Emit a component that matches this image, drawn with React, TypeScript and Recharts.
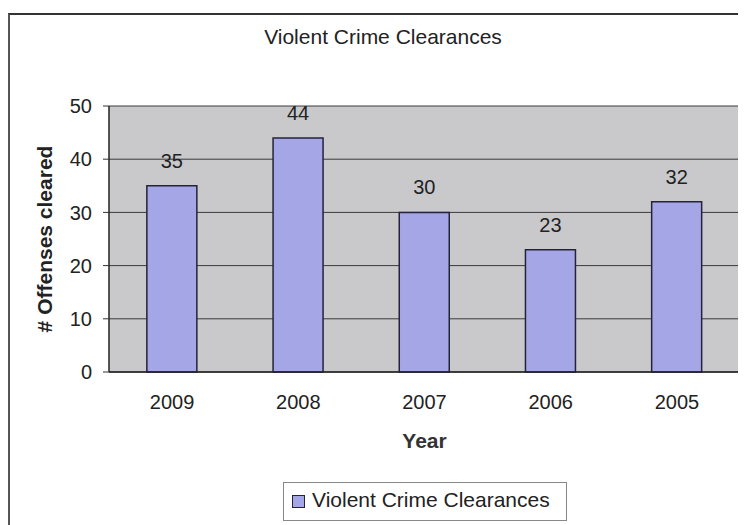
import { BarChart, Bar, XAxis, YAxis, CartesianGrid, Legend, LabelList, Label } from 'recharts'

const years = ['2009', '2008', '2007', '2006', '2005']
const cleared = [35, 44, 30, 23, 32]
const yTicks = [0, 10, 20, 30, 40, 50]
const seriesName = 'Violent Crime Clearances'

const data = years.map((y, i) => ({ year: y, value: cleared[i] }))

const font = '"Liberation Sans", Arial, sans-serif'
const ink = '#222'

function LegendBox() {
  return (
    <div
      style={{
        boxSizing: 'border-box',
        height: 39,
        border: '1px solid #888',
        display: 'flex',
        alignItems: 'center',
        paddingLeft: 8,
        paddingBottom: 4,
        fontFamily: font,
        fontSize: 21,
        color: ink,
        background: '#fff',
      }}
    >
      <span
        style={{
          display: 'inline-block',
          width: 11,
          height: 11,
          background: '#a5a6e6',
          border: '1px solid #23233a',
          marginRight: 7,
          marginTop: 4,
        }}
      />
      {seriesName}
    </div>
  )
}

export default function App() {
  return (
    <div style={{ position: 'relative', width: 738, height: 517, fontFamily: font }}>
      <style>{'html,body{overflow:hidden}'}</style>
      <div
        style={{
          position: 'absolute',
          left: 75,
          width: 600,
          top: 17,
          lineHeight: '24px',
          textAlign: 'center',
          fontSize: 21,
          color: ink,
        }}
      >
        Violent Crime Clearances
      </div>
      <BarChart
        width={738}
        height={517}
        data={data}
        margin={{ top: 98, right: 6, left: 30, bottom: 4 }}
        barCategoryGap="30%"
      >
        <CartesianGrid yAxisId="left" vertical={false} stroke="#3a3a3a" fill="#c9c9cc" fillOpacity={1} />
        <XAxis
          dataKey="year"
          height={110}
          tickLine={false}
          tickSize={0}
          tickMargin={23}
          axisLine={{ stroke: '#222', strokeWidth: 1.5 }}
          tick={{ fill: ink, fontSize: 20, fontFamily: font }}
        >
          <Label
            value="Year"
            position="insideBottom"
            offset={34}
            style={{ fontSize: 21, fontWeight: 'bold', fill: '#333', fontFamily: font }}
          />
        </XAxis>
        <YAxis
          yAxisId="left"
          width={71}
          domain={[0, 50]}
          ticks={yTicks}
          tickSize={6}
          tickMargin={11}
          tickLine={{ stroke: '#333' }}
          axisLine={{ stroke: '#222', strokeWidth: 1.5 }}
          tick={{ fill: ink, fontSize: 20, fontFamily: font }}
        >
          <Label
            value="# Offenses cleared"
            angle={-90}
            position="insideLeft"
            offset={7}
            style={{ textAnchor: 'middle', fontSize: 21, fontWeight: 'bold', fill: ink, fontFamily: font }}
          />
        </YAxis>
        <YAxis
          yAxisId="right"
          orientation="right"
          width={0}
          domain={[0, 50]}
          tick={false}
          tickLine={false}
          axisLine={{ stroke: '#333', strokeWidth: 1.5 }}
        />
        <Legend
          verticalAlign="bottom"
          wrapperStyle={{ left: 275, width: 284, bottom: 4 }}
          content={() => <LegendBox />}
        />
        <Bar
          yAxisId="left"
          dataKey="value"
          name={seriesName}
          fill="#a5a6e6"
          stroke="#23233a"
          strokeWidth={1.5}
          isAnimationActive={false}
        >
          <LabelList dataKey="value" position="top" offset={18} style={{ fill: ink, fontSize: 20, fontFamily: font }} />
        </Bar>
      </BarChart>
      {/* scanned page frame */}
      <div
        style={{
          position: 'absolute',
          left: 0,
          top: 5,
          right: 0,
          bottom: 0,
          borderTop: '2px solid #333',
          borderLeft: '2px solid #555',
          pointerEvents: 'none',
        }}
      />
    </div>
  )
}
